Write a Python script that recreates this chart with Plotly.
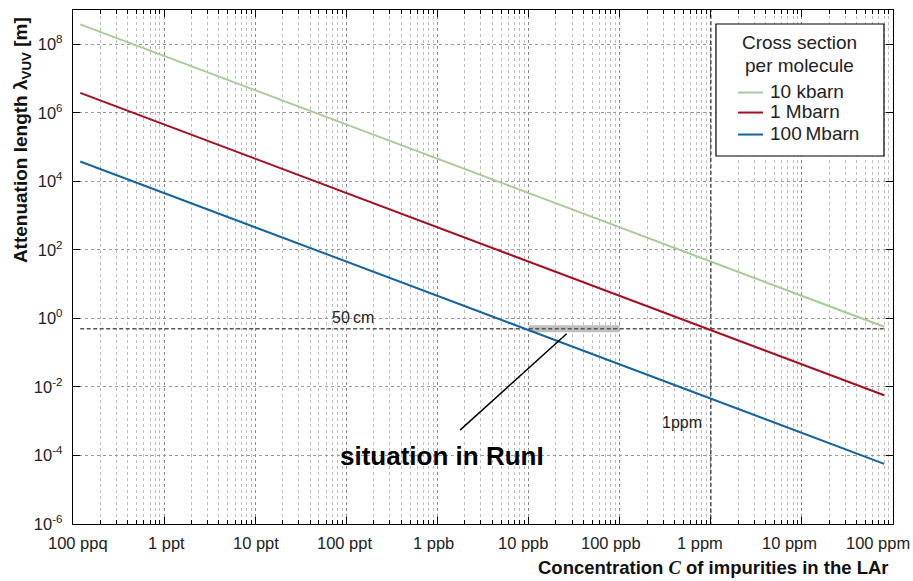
import plotly.graph_objects as go

# Impurity concentration (mole fraction) at the ends of each curve
conc_ends = [1.2e-13, 8e-5]

# Attenuation length [m] at those concentrations, per cross section
series_names = ["10 kbarn", "1 Mbarn", "100\u2009Mbarn"]
lambda_10kbarn = [3.8e8, 0.57]
lambda_1Mbarn = [3.8e6, 5.7e-3]
lambda_100Mbarn = [3.8e4, 5.7e-5]
series_values = [lambda_10kbarn, lambda_1Mbarn, lambda_100Mbarn]
series_colors = ["#abca9c", "#a3101f", "#15649f"]

# Reference levels
length_50cm = 0.5
conc_1ppm = 1e-6
runI_conc_range = [1e-8, 1e-7]

# Pointer from the label to the RunI band
pointer_x = [1.77e-9, 2.62e-8]
pointer_y = [5.5e-4, 0.357]

# Axis ticks
x_tick_exps = list(range(-13, -3))
x_tick_labels = ["100 ppq", "1 ppt", "10 ppt", "100 ppt", "1 ppb",
                 "10 ppb", "100 ppb", "1 ppm", "10 ppm", "100 ppm"]
y_tick_exps = [-6, -4, -2, 0, 2, 4, 6, 8]
y_tick_labels = ["10<sup>%d</sup>" % e for e in y_tick_exps]

FONT = "Liberation Sans, Arial, Helvetica, sans-serif"
DASH_COLOR = "#555555"
TEXT_COLOR = "#222222"

fig = go.Figure()

# RunI band on the 50 cm level
fig.add_trace(go.Scatter(
    x=runI_conc_range, y=[length_50cm, length_50cm], mode="lines",
    line=dict(color="#bfbfbf", width=7), showlegend=False, hoverinfo="skip"))

# 50 cm level
fig.add_trace(go.Scatter(
    x=conc_ends, y=[length_50cm, length_50cm], mode="lines",
    line=dict(color=DASH_COLOR, width=1.6, dash="4px,2.5px"),
    showlegend=False, hoverinfo="skip"))

# 1 ppm level
fig.add_trace(go.Scatter(
    x=[conc_1ppm, conc_1ppm], y=[1e-7, 1e10], mode="lines",
    line=dict(color=DASH_COLOR, width=1.6, dash="4px,2.5px"),
    showlegend=False, hoverinfo="skip"))

for name, vals, col in zip(series_names, series_values, series_colors):
    fig.add_trace(go.Scatter(
        x=conc_ends, y=vals, mode="lines", name=name,
        line=dict(color=col, width=2), showlegend=False))

fig.add_trace(go.Scatter(
    x=pointer_x, y=pointer_y, mode="lines",
    line=dict(color="black", width=1.5), showlegend=False, hoverinfo="skip"))

annotations = []
shapes = []

# x tick labels, nudged progressively to the left toward the right end
for i, (e, lab) in enumerate(zip(x_tick_exps, x_tick_labels)):
    annotations.append(dict(
        x=e, y=0, xref="x", yref="paper", text=lab, showarrow=False,
        xanchor="center", yanchor="top", yshift=-8, xshift=5 - 2.2 * i,
        font=dict(family=FONT, size=16.5, color=TEXT_COLOR)))

annotations += [
    dict(x=-9.93, y=-0.301, xref="x", yref="y", text="50\u2009cm",
         showarrow=False, xanchor="center", yanchor="bottom", yshift=1,
         font=dict(family=FONT, size=16, color=TEXT_COLOR)),
    dict(x=-6, y=-3.03, xref="x", yref="y", text="1ppm", showarrow=False,
         xanchor="right", yanchor="middle", xshift=-7,
         font=dict(family=FONT, size=16, color=TEXT_COLOR)),
    dict(x=-8.955, y=-4.02, xref="x", yref="y", text="<b>situation in RunI</b>",
         showarrow=False, xanchor="center", yanchor="middle",
         font=dict(family=FONT, size=26, color="black")),
    dict(x=0.997, y=0, xref="paper", yref="paper",
         text="<b>Concentration <i><span style='font-family:Liberation Serif'>C</span></i>"
              " of impurities in the LAr</b>",
         showarrow=False, xanchor="right", yanchor="top", yshift=-31,
         font=dict(family=FONT, size=18.5, color="#111")),
    dict(x=-0.062, y=0.504, xref="paper", yref="paper",
         text="<b>Attenuation length \u03bb<sub>VUV</sub> [m]</b>",
         showarrow=False, textangle=-90, xanchor="center", yanchor="bottom",
         font=dict(family=FONT, size=19, color="#111")),
]

# Legend box: title and one row per cross section
LEG_X0, LEG_X1, LEG_Y0, LEG_Y1 = 0.7841, 0.9890, 0.7160, 0.9728
shapes.append(dict(type="rect", xref="paper", yref="paper",
                   x0=LEG_X0, x1=LEG_X1, y0=LEG_Y0, y1=LEG_Y1,
                   line=dict(color="black", width=1.2), fillcolor="white",
                   layer="above"))
for txt, yy in [("Cross section", 0.9377), ("per molecule", 0.8911)]:
    annotations.append(dict(
        x=(LEG_X0 + LEG_X1) / 2, y=yy, xref="paper", yref="paper", text=txt,
        showarrow=False, xanchor="center", yanchor="middle",
        font=dict(family=FONT, size=19, color=TEXT_COLOR)))
row_y = [0.8424, 0.8035, 0.7607]
for name, col, yy in zip(series_names, series_colors, row_y):
    shapes.append(dict(type="line", xref="paper", yref="paper",
                       x0=0.8110, x1=0.8415, y0=yy - 0.003, y1=yy - 0.003,
                       line=dict(color=col, width=2), layer="above"))
    annotations.append(dict(
        x=0.848, y=yy, xref="paper", yref="paper", text=name,
        showarrow=False, xanchor="left", yanchor="middle",
        font=dict(family=FONT, size=19, color=TEXT_COLOR)))

fig.update_layout(
    width=913, height=581,
    margin=dict(l=73, r=20, t=10, b=57),
    paper_bgcolor="white", plot_bgcolor="white",
    font=dict(family=FONT, size=16, color=TEXT_COLOR),
    annotations=annotations, shapes=shapes,
    showlegend=False,
)

fig.update_xaxes(
    type="log", range=[-13, -4], tickmode="linear", tick0=0, dtick=1,
    showticklabels=False, ticks="inside", ticklen=7, tickcolor="black",
    showline=True, linecolor="black", linewidth=1.4, mirror="allticks",
    showgrid=True, gridcolor="#8a8a8a", griddash="dot", gridwidth=1,
    zeroline=False,
    minor=dict(dtick="D1", ticks="inside", ticklen=4, tickcolor="black",
               showgrid=True, gridcolor="#bdbdbd", griddash="dot", gridwidth=1),
)
fig.update_yaxes(
    type="log", range=[-6, 9], tickmode="array",
    tickvals=[10.0 ** e for e in y_tick_exps], ticktext=y_tick_labels,
    ticks="inside", ticklen=7, tickcolor="black", ticklabelstandoff=6,
    tickfont=dict(family=FONT, size=16.5, color=TEXT_COLOR),
    showline=True, linecolor="black", linewidth=1.4, mirror="allticks",
    showgrid=True, gridcolor="#9a9a9a", griddash="dot", gridwidth=1,
    zeroline=False,
)

fig.write_html("out.html")
